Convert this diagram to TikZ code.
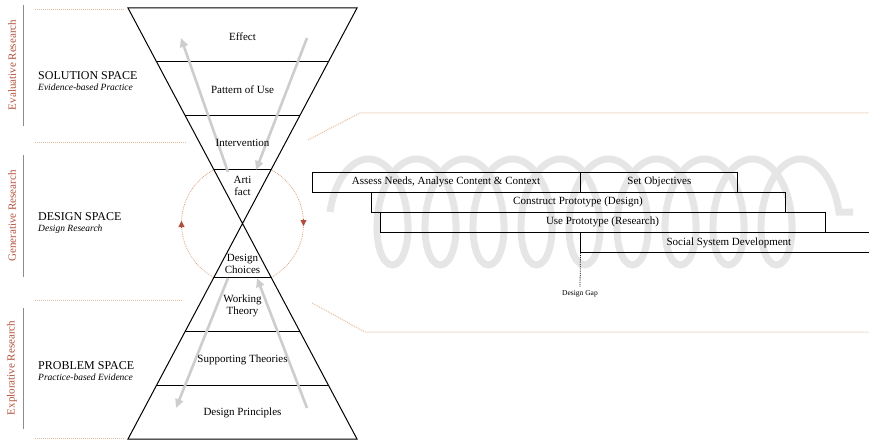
\documentclass[tikz,border=0pt]{standalone}
\usepackage{fontspec}
\setmainfont{Liberation Serif}
\usetikzlibrary{positioning, arrows.meta, calc, decorations.pathmorphing}
\definecolor{ResearchRed}{HTML}{B0503A}
\definecolor{CycleOrange}{HTML}{D9A283}
\definecolor{GuideTan}{HTML}{E3BC9E}
\definecolor{FlowGray}{HTML}{CDCDCD}
\definecolor{CoilGray}{HTML}{E6E6E6}

\begin{document}
\begin{tikzpicture}[x=1pt, y=-1pt,
    band/.style={inner sep=0pt, font=\fontsize{11}{11.5}\selectfont, align=center},
    bar/.style={draw, line width=0.9pt, minimum height=20pt, inner sep=0pt, font=\fontsize{11}{12}\selectfont},
    spacetitle/.style={inner sep=0pt, anchor=west, font=\fontsize{12}{13}\selectfont},
    spacesub/.style={inner sep=0pt, font=\fontsize{9.5}{10}\selectfont\itshape},
    phase/.style={inner sep=0pt, rotate=90, text=ResearchRed, font=\fontsize{11}{12}\selectfont},
    guide/.style={GuideTan, densely dotted, line width=1pt},
    flow/.style={FlowGray, line width=2.6pt, -{Triangle[length=9pt, width=8pt]}}]
    \useasboundingbox (0,0) rectangle (869,441);

    % background coil behind the phases
    \begin{scope}
        \clip (320,140) rectangle (853,290);
        \draw[CoilGray, line width=7pt, decorate,
            decoration={coil, amplitude=53pt, segment length=48pt, aspect=0.5}] (330,212) -- (858,212);
    \end{scope}

    % phase markers on the left
    \draw[black!45, line width=0.6pt] (23,5) -- (23,126);
    \draw[black!45, line width=0.6pt] (23,155) -- (23,277);
    \draw[black!45, line width=0.6pt] (23,308) -- (23,429);
    \node[phase] (evaluative) at (12,65) {Evaluative Research};
    \node[phase] (generative) at (12,216) {Generative Research};
    \node[phase] (explorative) at (12,368) {Explorative Research};

    \draw[guide] (35,10) -- (125,10);
    \draw[guide] (35,142) -- (186,142);
    \draw[guide] (35,300) -- (182,300);
    \draw[guide] (35,438) -- (125,438);
    \draw[guide] (308,140) -- (360,113) -- (869,113);
    \draw[guide] (312,303) -- (365,332) -- (869,332);

    % design cycle
    \coordinate (apex) at (242.5,223.5);
    \draw[CycleOrange, densely dotted, line width=0.8pt] (apex) circle[radius=61];
    \draw[ResearchRed, -{Triangle[length=6pt, width=6pt]}] (181.5,228) -- (181.5,221);
    \draw[ResearchRed, -{Triangle[length=6pt, width=6pt]}] (303.5,219) -- (303.5,226);

    % hourglass
    \coordinate (tl) at (128,8);
    \coordinate (tr) at (357,8);
    \coordinate (bl) at (128,439);
    \coordinate (br) at (357,439);
    \draw[fill=white, line width=1pt] (tl) -- (tr) -- (apex) -- cycle;
    \draw[fill=white, line width=1pt] (bl) -- (br) -- (apex) -- cycle;
    \foreach \t in {0.25,0.5,0.75} {
        \draw[line width=1pt] ($(tl)!\t!(apex)$) -- ($(tr)!\t!(apex)$);
        \draw[line width=1pt] ($(bl)!\t!(apex)$) -- ($(br)!\t!(apex)$);
    }

    \coordinate (upfrom) at (228,172);
    \coordinate (upto) at (181,38);
    \coordinate (downfrom) at (307,38);
    \coordinate (downto) at (256,170);
    \coordinate (outfrom) at (228,278);
    \coordinate (outto) at (176,408);
    \coordinate (backfrom) at (307,408);
    \coordinate (backto) at (257,278);
    \draw[flow] (upfrom) -- (upto);
    \draw[flow] (downfrom) -- (downto);
    \draw[flow] (outfrom) -- (outto);
    \draw[flow] (backfrom) -- (backto);

    \node[band] (effect) at (242.5,37) {Effect};
    \node[band] (use) at (242.5,90) {Pattern of Use};
    \node[band] (intervention) at (242.5,143) {Intervention};
    \node[band] (artifact) at (242.5,186) {Arti\\fact};
    \node[band] (choices) at (242.5,264) {Design\\Choices};
    \node[band] (working) at (242.5,306) {Working\\Theory};
    \node[band] (supporting) at (242.5,360) {Supporting Theories};
    \node[band] (principles) at (242.5,413) {Design Principles};

    % spaces
    \node[spacetitle] (solution) at (38,76) {SOLUTION SPACE};
    \node[spacesub, below right=3pt and 0pt of solution.south west] (solutionsub) {Evidence-based Practice};
    \node[spacetitle] (design) at (38,217) {DESIGN SPACE};
    \node[spacesub, below right=3pt and 0pt of design.south west] (designsub) {Design Research};
    \node[spacetitle] (problem) at (38,366) {PROBLEM SPACE};
    \node[spacesub, below right=3pt and 0pt of problem.south west] (problemsub) {Practice-based Evidence};

    % phases of the design research
    \node[bar, minimum width=268] (assess) at (446,182) {Assess Needs, Analyse Content \& Context};
    \node[bar, minimum width=157, right=0pt of assess] (objectives) {Set Objectives};
    \node[bar, minimum width=414] (construct) at (578,202) {Construct Prototype (Design)};
    \node[bar, minimum width=445] (prototype) at (602.5,222) {Use Prototype (Research)};
    \node[bar, minimum width=296, anchor=north west] (social) at (assess.east |- prototype.south) {Social System Development};

    \coordinate (gapend) at (580,287);
    \draw[densely dotted, line width=0.8pt] (social.south west) -- (gapend);
    \node[inner sep=0pt, font=\fontsize{7.5}{8}\selectfont, below=3pt of gapend] (gap) {Design Gap};
\end{tikzpicture}
\end{document}
